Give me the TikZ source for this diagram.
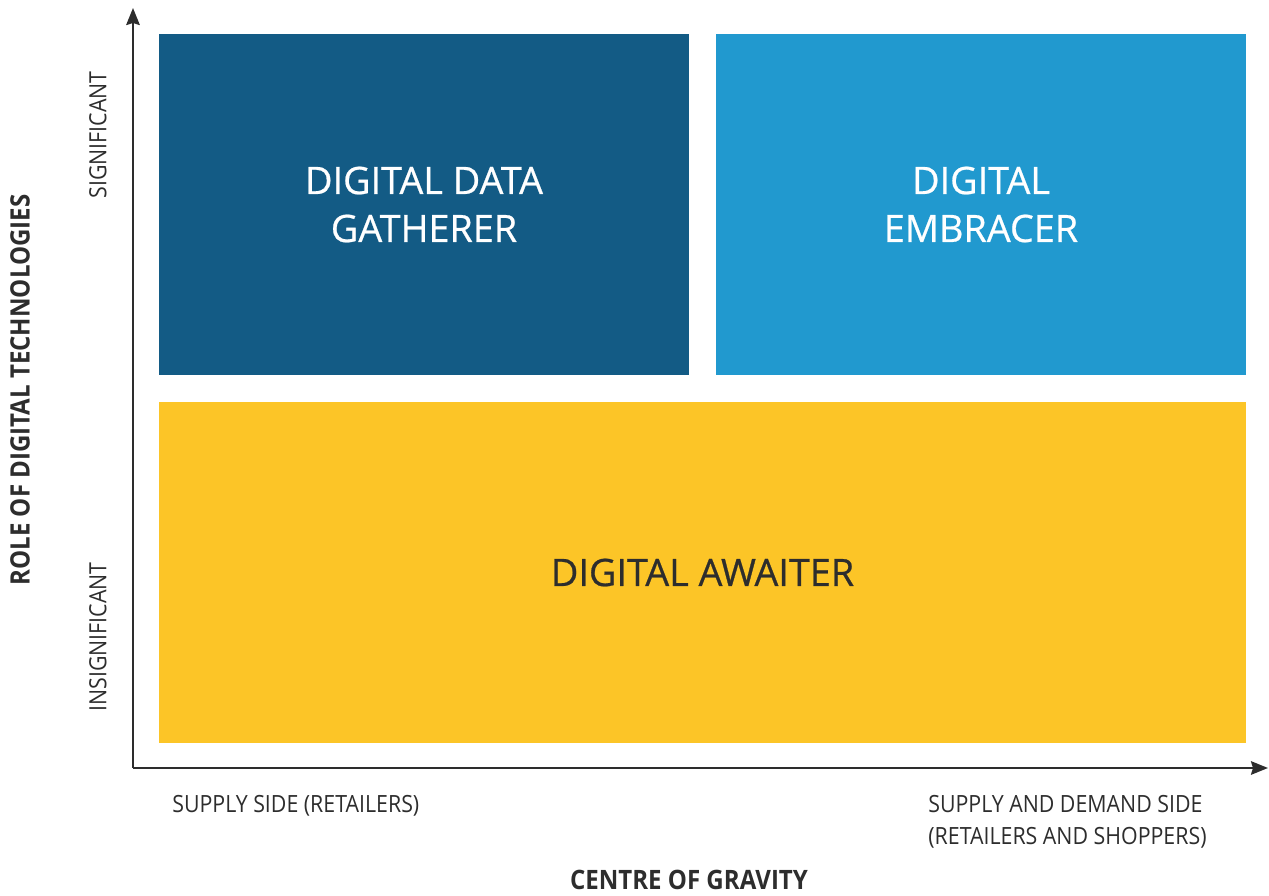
\documentclass[tikz,border=0pt]{standalone}
\usepackage{fontspec}
\setmainfont{Open Sans}
\newfontfamily\quadfont[FakeBold=0.6]{Open Sans}
\newfontfamily\axisfont[FakeStretch=0.9]{Open Sans}
\usepackage{xcolor}
\usetikzlibrary{arrows.meta, positioning}
\definecolor{gathererblue}{RGB}{19, 91, 133}
\definecolor{embracerblue}{RGB}{33, 153, 207}
\definecolor{awaiteryellow}{RGB}{252, 197, 39}
\definecolor{axisgray}{RGB}{45, 45, 45}

\begin{document}
\begin{tikzpicture}[
  quad/.style={
    draw=none, minimum width=10.6cm, minimum height=6.82cm,
    align=center, inner sep=0pt,
    font=\quadfont\fontsize{21.5}{27.3}\selectfont
  },
  axis/.style={-{Stealth[length=0.34cm, width=0.27cm, inset=0.04cm]}, line width=1.3pt, color=axisgray},
  tick/.style={font=\axisfont\fontsize{13.5}{18}\selectfont, text=axisgray, inner sep=0pt},
  title/.style={font=\axisfont\bfseries\fontsize{15.2}{18}\selectfont, text=axisgray, inner sep=0pt}
]
  \useasboundingbox (0, 0) rectangle (25.38, 17.9);

  % Quadranten
  \node[quad, fill=gathererblue, text=white] (gatherer) at (8.48, 13.81) {DIGITAL DATA\\GATHERER};
  \node[quad, fill=embracerblue, text=white] (embracer) at (19.62, 13.81) {DIGITAL\\EMBRACER};
  \node[quad, fill=awaiteryellow, text=axisgray, minimum width=21.74cm] (awaiter) at (14.05, 6.45) {DIGITAL AWAITER};

  % Achsen
  \coordinate (origin) at (2.66, 2.54);
  \coordinate (ytip) at (2.66, 17.74);
  \coordinate (xtip) at (25.36, 2.54);
  \draw[axis] (origin) -- (ytip);
  \draw[axis] (origin) -- (xtip);

  % Achsenbeschriftungen
  \node[tick, rotate=90] (significant) at (1.96, 15.2) {SIGNIFICANT};
  \node[tick, rotate=90] (insignificant) at (1.96, 5.16) {INSIGNIFICANT};
  \node[title, rotate=90] (role) at (0.40, 10.1) {ROLE OF DIGITAL TECHNOLOGIES};
  \node[tick, anchor=west] (supply) at (3.44, 1.78) {SUPPLY SIDE (RETAILERS)};
  \node[tick, anchor=west, align=left] (demand) at (18.56, 1.46) {SUPPLY AND DEMAND SIDE\\(RETAILERS AND SHOPPERS)};
  \node[title] (gravity) at (13.78, 0.30) {CENTRE OF GRAVITY};

\end{tikzpicture}
\end{document}
